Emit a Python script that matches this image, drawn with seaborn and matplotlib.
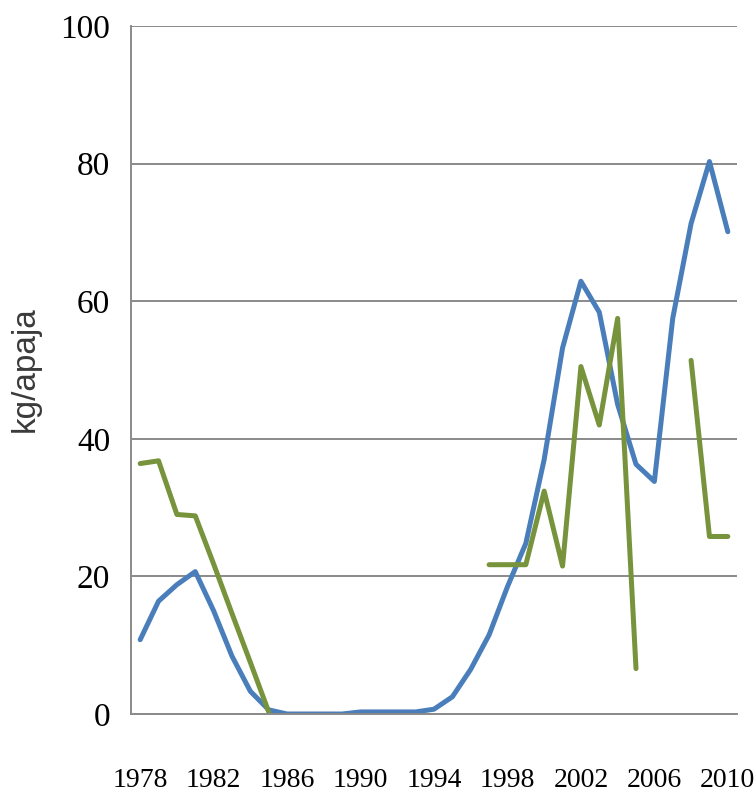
import numpy as np
import pandas as pd
import matplotlib
matplotlib.use("Agg")
import matplotlib.pyplot as plt
import seaborn as sns
from matplotlib.ticker import FixedLocator
from matplotlib import font_manager

# =============================================================================
# DATA
# =============================================================================
years = list(range(1978, 2011))

blue_values = [10.8, 16.4, 18.8, 20.7, 15.0, 8.4, 3.3, 0.6, 0.0, 0.0,
               0.0, 0.0, 0.3, 0.3, 0.3, 0.3, 0.7, 2.5, 6.5, 11.5,
               18.5, 24.8, 37.0, 53.2, 62.9, 58.4, 45.0, 36.3, 33.8, 57.5,
               71.3, 80.3, 70.1]

green_values = [36.4, 36.8, 29.0, 28.8, 21.8, 14.6, 7.5, 0.3, np.nan, np.nan,
                np.nan, np.nan, np.nan, np.nan, np.nan, np.nan, np.nan, np.nan, np.nan, 21.7,
                21.7, 21.7, 32.4, 21.5, 50.5, 42.0, 57.5, 6.6, np.nan, np.nan,
                51.4, 25.8, 25.8]

y_ticks = [0, 20, 40, 60, 80, 100]
x_labels = list(range(1978, 2011, 4))

BLUE = "#4a7ebb"
GREEN = "#77933c"
GRID = "#8a8a8a"

df = pd.DataFrame({"year": years, "blue": blue_values, "green": green_values})
# split green into unbroken runs so the gaps stay gaps
df["green_seg"] = df["green"].isna().cumsum()

# narrow font for the tick numbers if one exists, else a serif one
tick_family = "Liberation Serif"
for cand in ["Liberation Sans Narrow", "DejaVu Sans Condensed"]:
    try:
        font_manager.findfont(cand, fallback_to_default=False)
        tick_family = cand
        break
    except Exception:
        pass

# =============================================================================
# PLOT
# =============================================================================
sns.set_style("white")
plt.rcParams["font.family"] = [tick_family, "DejaVu Sans"]

fig = plt.figure(figsize=(7.56, 7.97), dpi=100)
ax = fig.add_axes([131 / 756, 1 - 714 / 797, (737 - 131) / 756, (714 - 26) / 797])

sns.lineplot(data=df, x="year", y="blue", color=BLUE, linewidth=3.6, ax=ax)
for _, seg in df.dropna(subset=["green"]).groupby("green_seg"):
    sns.lineplot(data=seg, x="year", y="green", color=GREEN, linewidth=3.6, ax=ax)

ax.set_xlim(1977.5, 2010.5)
ax.set_ylim(0, 100)
ax.set_yticks(y_ticks)
ax.yaxis.grid(True, color=GRID, linewidth=1.4)
ax.set_axisbelow(True)

ax.xaxis.set_major_locator(FixedLocator(x_labels))
ax.set_xticklabels([str(y) for y in x_labels], fontsize=20, color="black")
ax.xaxis.set_minor_locator(FixedLocator([y - 0.5 for y in years] + [2010.5]))
ax.tick_params(axis="x", which="major", length=0, pad=39)
ax.tick_params(axis="x", which="minor", length=10, width=1.2, color=GRID, direction="out")
ax.tick_params(axis="y", length=5, width=1.2, color=GRID, labelsize=24, labelcolor="black", pad=10)

for side in ["top", "right"]:
    ax.spines[side].set_visible(False)
for side in ["left", "bottom"]:
    ax.spines[side].set_color(GRID)
    ax.spines[side].set_linewidth(1.4)

ax.set_xlabel("")
ax.set_ylabel("")
fig.text(25 / 756, 1 - 369 / 797, "kg/apaja", rotation=90, fontsize=24, color="#3a3a3a",
         family=["Liberation Sans", "DejaVu Sans"], ha="center", va="center")

fig.savefig("out.png", dpi=100)
